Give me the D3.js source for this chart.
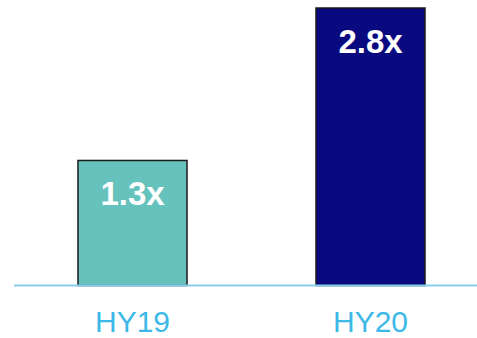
<!DOCTYPE html>
<html>
<head>
<meta charset="utf-8">
<script src="https://cdn.jsdelivr.net/npm/d3@7"></script>
<style>
  body { margin: 0; background: #fff; }
</style>
</head>
<body>
<div id="chart"></div>
<script>
// half-year multiples
var categories = ["HY19", "HY20"];
var values = [1.3, 2.8];
var valueLabels = ["1.3x", "2.8x"];
var barColors = ["#66c2bd", "#0a0a80"];

var width = 477,
    height = 338,
    baseY = 285.5;

var svg = d3.select("#chart").append("svg")
    .attr("width", width)
    .attr("height", height);

var x = d3.scaleBand()
    .domain(categories)
    .range([78, 425])
    .paddingInner(0.542)
    .paddingOuter(0);

var y = d3.scaleLinear()
    .domain([0.07, 2.8])
    .range([baseY, 8]);

var bars = svg.selectAll(".bar")
    .data(values)
    .enter()
    .append("rect")
    .attr("class", "bar")
    .attr("x", (d, i) => x(categories[i]))
    .attr("y", d => y(d))
    .attr("width", x.bandwidth())
    .attr("height", d => baseY - y(d))
    .style("fill", (d, i) => barColors[i])
    .style("stroke", "#1a1a1a")
    .style("stroke-width", 1.5);

svg.selectAll(".val")
    .data(values)
    .enter()
    .append("text")
    .attr("class", "val")
    .attr("x", (d, i) => x(categories[i]) + x.bandwidth() / 2)
    .attr("y", d => y(d) + 45)
    .attr("text-anchor", "middle")
    .style("font-family", "Liberation Sans, Arial, sans-serif")
    .style("font-size", "33px")
    .style("font-weight", "bold")
    .style("fill", "#fff")
    .text((d, i) => valueLabels[i]);

// baseline
svg.append("line")
    .attr("x1", 14)
    .attr("x2", width)
    .attr("y1", baseY)
    .attr("y2", baseY)
    .style("stroke", "#87cdee")
    .style("stroke-width", 2);

svg.selectAll(".cat")
    .data(categories)
    .enter()
    .append("text")
    .attr("class", "cat")
    .attr("x", d => x(d) + x.bandwidth() / 2)
    .attr("y", 332)
    .attr("text-anchor", "middle")
    .style("font-family", "Liberation Sans, Arial, sans-serif")
    .style("font-size", "30px")
    .style("fill", "#3cb9e6")
    .text(d => d);
</script>
</body>
</html>
